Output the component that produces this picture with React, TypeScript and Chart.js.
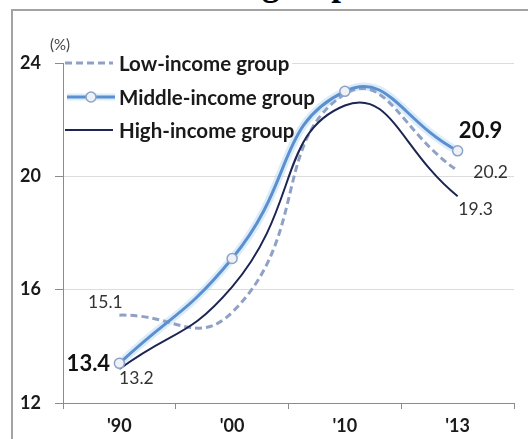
import React, { useEffect, useRef } from "react";
import { Chart, registerables } from "chart.js";

Chart.register(...registerables);

// ---------- data ----------
const categories = ["'90", "'00", "'10", "'13"];
const lowIncome = [15.1, 15.2, 22.9, 20.2];
const middleIncome = [13.4, 17.1, 23.0, 20.9];
const highIncome = [13.2, 16.1, 22.5, 19.3];
const yTicks = [12, 16, 20, 24];
const seriesNames = ["Low-income group", "Middle-income group", "High-income group"];
const unitLabel = "(%)";
const titleFragment = "group";

// ---------- styles ----------
const FONT = "Lato, 'Open Sans', sans-serif";
const LOW_COLOR = "#8fa2c6";
const MID_COLOR = "#5b8fd0";
const MID_GLOW = "rgba(175,213,243,0.45)";
const HIGH_COLOR = "#1c2553";
const TEXT_COLOR = "#1a1a1a";
const AXIS_COLOR = "#8c8c8c";
const TENSION = 0.5;

// which points get a value label, and how it is placed relative to the point
const labelSpecs = [
  { ds: 1, idx: 0, bold: false, dx: -14, dy: -13 },
  { ds: 0, idx: 0, bold: true, dx: -31, dy: 1 },
  { ds: 2, idx: 0, bold: false, dx: 17, dy: 9 },
  { ds: 0, idx: 3, bold: true, dx: 23, dy: -20 },
  { ds: 1, idx: 3, bold: false, dx: 33, dy: 2 },
  { ds: 2, idx: 3, bold: false, dx: 18, dy: 13 },
];

const overlayPlugin = {
  id: "overlay",
  beforeDatasetsDraw(chart: any) {
    const ctx = chart.ctx;
    ctx.save();
    ctx.fillStyle = "#ffffff";
    ctx.fillRect(chart.chartArea.left + 1, chart.chartArea.top - 5, 228, 10);
    ctx.restore();
  },
  afterDatasetsDraw(chart: any) {
    const ctx = chart.ctx;
    const left = chart.chartArea.left;
    const top = chart.chartArea.top;
    ctx.save();

    // unit label
    ctx.fillStyle = "#444";
    ctx.font = `15px ${FONT}`;
    ctx.textAlign = "center";
    ctx.textBaseline = "middle";
    ctx.fillText(unitLabel, left - 3, top - 18);

    // legend
    const rows = [top, top + 34, top + 67];
    ctx.lineCap = "butt";
    // low
    ctx.strokeStyle = LOW_COLOR;
    ctx.lineWidth = 3;
    ctx.setLineDash([7, 4]);
    ctx.beginPath();
    ctx.moveTo(left + 2, rows[0]);
    ctx.lineTo(left + 50, rows[0]);
    ctx.stroke();
    ctx.setLineDash([]);
    // middle
    ctx.strokeStyle = MID_GLOW;
    ctx.lineWidth = 7;
    ctx.beginPath();
    ctx.moveTo(left + 4, rows[1]);
    ctx.lineTo(left + 52, rows[1]);
    ctx.stroke();
    ctx.strokeStyle = MID_COLOR;
    ctx.lineWidth = 3;
    ctx.beginPath();
    ctx.moveTo(left + 4, rows[1]);
    ctx.lineTo(left + 52, rows[1]);
    ctx.stroke();
    ctx.fillStyle = "#eef2f8";
    ctx.strokeStyle = "#8da3c4";
    ctx.lineWidth = 1.5;
    ctx.beginPath();
    ctx.arc(left + 28, rows[1], 5, 0, Math.PI * 2);
    ctx.fill();
    ctx.stroke();
    // high
    ctx.strokeStyle = HIGH_COLOR;
    ctx.lineWidth = 2;
    ctx.beginPath();
    ctx.moveTo(left + 2, rows[2]);
    ctx.lineTo(left + 50, rows[2]);
    ctx.stroke();

    ctx.fillStyle = TEXT_COLOR;
    ctx.font = `bold 20.5px ${FONT}`;
    ctx.textAlign = "left";
    ctx.textBaseline = "middle";
    seriesNames.forEach((name, i) => ctx.fillText(name, left + 56, rows[i] + 1));

    // value labels
    labelSpecs.forEach((s) => {
      const meta = chart.getDatasetMeta(s.ds);
      const pt = meta.data[s.idx];
      const v = chart.data.datasets[s.ds].data[s.idx] as number;
      ctx.font = s.bold ? `bold 22px ${FONT}` : `17.5px ${FONT}`;
      ctx.fillStyle = s.bold ? "#111" : "#333";
      ctx.textAlign = "center";
      ctx.textBaseline = "middle";
      ctx.fillText(v.toFixed(1), pt.x + s.dx, pt.y + s.dy);
    });
    ctx.restore();
  },
};

export default function App() {
  const ref = useRef<HTMLCanvasElement>(null);

  useEffect(() => {
    if (!ref.current) return;
    const chart = new Chart(ref.current, {
      type: "line",
      data: {
        labels: categories,
        datasets: [
          {
            label: seriesNames[1],
            data: middleIncome,
            borderColor: MID_COLOR,
            borderWidth: 3,
            tension: TENSION,
            pointRadius: 5,
            pointBackgroundColor: "#eef2f8",
            pointBorderColor: "#8da3c4",
            pointBorderWidth: 1.5,
            order: 0,
          },
          {
            label: seriesNames[0],
            data: lowIncome,
            borderColor: LOW_COLOR,
            borderWidth: 3,
            borderDash: [7, 4],
            tension: TENSION,
            pointRadius: 0,
            order: 2,
          },
          {
            label: seriesNames[2],
            data: highIncome,
            borderColor: HIGH_COLOR,
            borderWidth: 2,
            tension: TENSION,
            pointRadius: 0,
            order: 1,
          },
          {
            label: "glow",
            data: middleIncome,
            borderColor: MID_GLOW,
            borderWidth: 8,
            tension: TENSION,
            pointRadius: 0,
            order: 3,
          },
        ],
      },
      options: {
        responsive: false,
        animation: false,
        layout: { padding: { left: 0, right: 14, top: 63, bottom: 0 } },
        plugins: {
          legend: { display: false },
          tooltip: { enabled: false },
          title: { display: false },
        },
        scales: {
          x: {
            offset: true,
            afterFit: (s: any) => {
              s.height = 36;
            },
            grid: {
              offset: true,
              drawOnChartArea: false,
              tickLength: 6,
              tickColor: AXIS_COLOR,
            },
            border: { color: AXIS_COLOR, width: 1 },
            ticks: {
              font: { family: FONT, weight: "bold", size: 18 },
              color: TEXT_COLOR,
              padding: 6,
            },
          },
          y: {
            min: 12,
            max: 24,
            afterBuildTicks: (s: any) => {
              s.ticks = yTicks.map((v) => ({ value: v }));
            },
            afterFit: (s: any) => {
              s.width = 63;
            },
            grid: {
              color: "#dcdcdc",
              tickLength: 8,
              tickColor: AXIS_COLOR,
            },
            border: { color: AXIS_COLOR, width: 1 },
            ticks: {
              font: { family: FONT, weight: "bold", size: 18 },
              color: TEXT_COLOR,
              padding: 14,
            },
          },
        },
      },
      plugins: [overlayPlugin],
    });
    return () => chart.destroy();
  }, []);

  return (
    <div style={{ position: "absolute", left: 0, top: 0, width: 528, height: 439, overflow: "hidden", background: "#fff" }}>
      <div
        style={{
          position: "absolute",
          left: 11,
          top: 9,
          width: 530,
          height: 440,
          borderTop: "2px solid #a3a3a3",
          borderLeft: "2px solid #a3a3a3",
        }}
      />
      <span
        style={{
          position: "absolute",
          left: 262,
          top: -34,
          fontFamily: "'Liberation Serif', serif",
          fontWeight: "bold",
          fontSize: 35,
          lineHeight: 1,
          whiteSpace: "nowrap",
          color: "#000",
        }}
      >
        {titleFragment}
      </span>
      <canvas ref={ref} width={528} height={439} style={{ position: "absolute", left: 0, top: 0 }} />
    </div>
  );
}
